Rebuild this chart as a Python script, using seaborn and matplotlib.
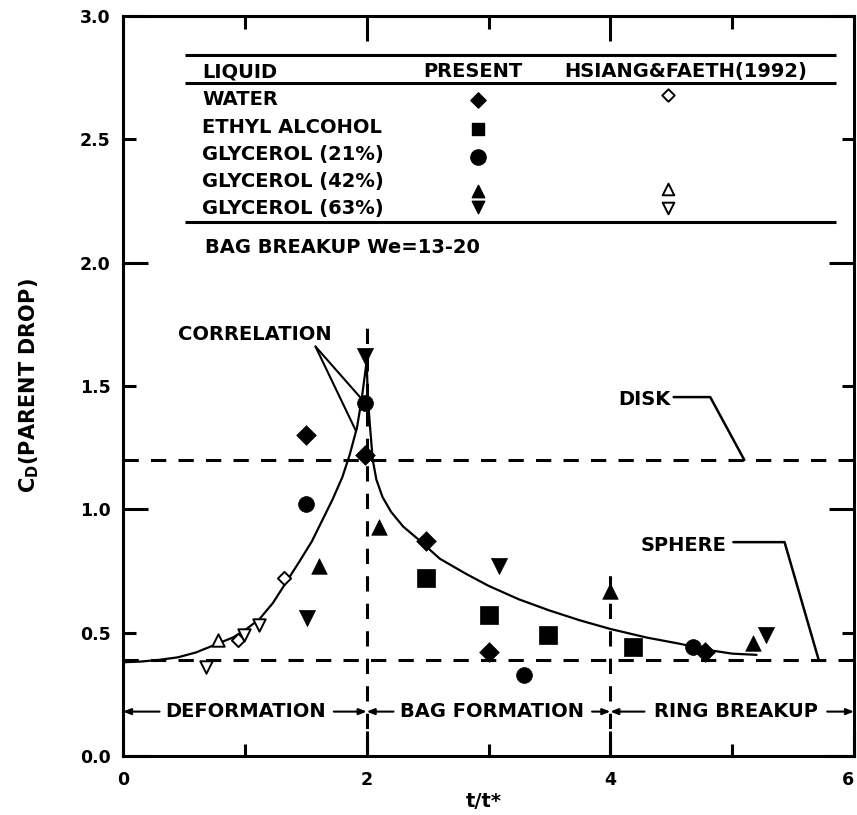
import numpy as np
import pandas as pd
import matplotlib
matplotlib.use("Agg")
import matplotlib.pyplot as plt
from matplotlib.ticker import FixedLocator, FormatStrFormatter
import seaborn as sns

# ---- present measurements: (t/t*, C_D) ----
water_t = [1.50, 1.99, 2.49, 3.00, 4.78]
water_cd = [1.30, 1.22, 0.87, 0.42, 0.42]
ethyl_t = [2.49, 3.00, 3.49, 4.19]
ethyl_cd = [0.72, 0.57, 0.49, 0.44]
gly21_t = [1.50, 1.99, 3.29, 4.68]
gly21_cd = [1.02, 1.43, 0.33, 0.44]
gly42_t = [1.61, 2.10, 4.00, 5.17]
gly42_cd = [0.77, 0.93, 0.67, 0.46]
gly63_t = [1.51, 1.99, 3.09, 5.28]
gly63_cd = [0.56, 1.62, 0.77, 0.49]

# ---- Hsiang & Faeth (1992) ----
hf_water_t = [0.94, 1.32]
hf_water_cd = [0.47, 0.72]
hf_gly42_t = [0.78]
hf_gly42_cd = [0.47]
hf_gly63_t = [0.68, 0.99, 1.12]
hf_gly63_cd = [0.36, 0.49, 0.53]

# ---- correlation curve (rising and decaying branches) ----
corr_rise_t = [0.00, 0.15, 0.30, 0.45, 0.60, 0.75, 0.90, 1.00, 1.12, 1.23,
               1.34, 1.45, 1.55, 1.65, 1.72, 1.80, 1.86, 1.92, 1.96, 2.00]
corr_rise_cd = [0.38, 0.383, 0.39, 0.40, 0.42, 0.45, 0.48, 0.51, 0.555, 0.62,
                0.705, 0.79, 0.87, 0.97, 1.04, 1.13, 1.22, 1.33, 1.45, 1.60]
corr_decay_t = [2.00, 2.01, 2.03, 2.05, 2.08, 2.13, 2.20, 2.30, 2.42, 2.60,
                2.81, 3.00, 3.25, 3.50, 3.75, 4.00, 4.30, 4.57, 4.80, 5.00, 5.20]
corr_decay_cd = [1.60, 1.45, 1.32, 1.20, 1.12, 1.05, 0.99, 0.93, 0.88, 0.80,
                 0.74, 0.69, 0.635, 0.59, 0.55, 0.515, 0.48, 0.455, 0.43, 0.415, 0.41]

# reference drag coefficients
CD_DISK = 1.2
CD_SPHERE = 0.39

# regime boundaries (t/t*) and the height of their dashed markers
regime_edges = [0.0, 2.0, 4.0, 6.0]
regime_marker_top = [1.77, 0.74]
regimes = ["DEFORMATION", "BAG FORMATION", "RING BREAKUP"]

liquids = ["WATER", "ETHYL ALCOHOL", "GLYCEROL (21%)", "GLYCEROL (42%)", "GLYCEROL (63%)"]

sns.set_style("ticks")
plt.rcParams["font.family"] = ["DejaVu Sans"]
plt.rcParams["font.weight"] = "bold"
plt.rcParams["axes.labelweight"] = "bold"
plt.rcParams["mathtext.default"] = "bf"
plt.rcParams["text.color"] = "black"
plt.rcParams["axes.labelcolor"] = "black"
plt.rcParams["xtick.color"] = "black"
plt.rcParams["ytick.color"] = "black"

fig = plt.figure(figsize=(8.57, 8.15), dpi=100)
ax = fig.add_axes([123 / 857, 59 / 815, 731 / 857, 740 / 815])
ax.set_xlim(0, 6)
ax.set_ylim(0, 3)

K = "black"
FS = 14

# reference lines
dash = (0, (5, 4))
ax.axhline(CD_DISK, color=K, lw=2.2, linestyle=dash, zorder=2)
ax.axhline(CD_SPHERE, color=K, lw=2.2, linestyle=dash, zorder=2)
ax.vlines(regime_edges[1:3], 0, regime_marker_top, colors=K, lw=2.2,
          linestyles=[dash], zorder=2)

# correlation
sns.lineplot(x=corr_rise_t, y=corr_rise_cd, sort=False, color=K, lw=1.6,
             ax=ax, zorder=3)
sns.lineplot(x=corr_decay_t, y=corr_decay_cd, sort=False, color=K, lw=1.6,
             ax=ax, zorder=3)


def points(t, cd, marker, size, filled=True):
    df = pd.DataFrame({"t": t, "cd": cd})
    if filled:
        sns.scatterplot(data=df, x="t", y="cd", marker=marker, s=size,
                        color=K, edgecolor=K, linewidth=0.5, ax=ax,
                        zorder=5, legend=False)
    else:
        sns.scatterplot(data=df, x="t", y="cd", marker=marker, s=size,
                        color="white", edgecolor=K, linewidth=1.4, ax=ax,
                        zorder=5, legend=False)


points(water_t, water_cd, "D", 100)
points(ethyl_t, ethyl_cd, "s", 150)
points(gly21_t, gly21_cd, "o", 130)
points(gly42_t, gly42_cd, "^", 125)
points(gly63_t, gly63_cd, "v", 135)
points(hf_water_t, hf_water_cd, "D", 45, filled=False)
points(hf_gly42_t, hf_gly42_cd, "^", 80, filled=False)
points(hf_gly63_t, hf_gly63_cd, "v", 80, filled=False)

# ---- key table ----
ax.hlines([2.84, 2.73, 2.165], 0.51, 5.85, colors=K, lw=2.2)
ax.text(0.65, 2.775, "LIQUID", fontsize=FS, va="center", ha="left")
ax.text(2.87, 2.775, "PRESENT", fontsize=FS, va="center", ha="center")
ax.text(4.62, 2.775, "HSIANG&FAETH(1992)", fontsize=FS, va="center", ha="center")
row_y = [2.66, 2.55, 2.44, 2.33, 2.22]
for name, y in zip(liquids, row_y):
    ax.text(0.65, y, name, fontsize=FS, va="center", ha="left")
key_present = [("D", 60, 2.66), ("s", 85, 2.54), ("o", 120, 2.43),
               ("^", 80, 2.29), ("v", 80, 2.225)]
for m, s, y in key_present:
    ax.scatter([2.91], [y], marker=m, s=s, color=K, zorder=5)
key_hf = [("D", 40, 2.68), ("^", 70, 2.30), ("v", 70, 2.22)]
for m, s, y in key_hf:
    ax.scatter([4.47], [y], marker=m, s=s, facecolor="white", edgecolor=K,
               linewidths=1.4, zorder=5)
ax.text(0.67, 2.06, "BAG BREAKUP We=13-20", fontsize=FS, va="center", ha="left")

# ---- annotations ----
ax.text(1.08, 1.71, "CORRELATION", fontsize=FS, va="center", ha="center")
ax.plot([1.58, 1.91], [1.66, 1.32], color=K, lw=1.5)
ax.plot([1.58, 1.99], [1.66, 1.43], color=K, lw=1.5)

ax.text(4.28, 1.445, "DISK", fontsize=FS, va="center", ha="center")
ax.plot([4.52, 4.82, 5.10], [1.455, 1.455, 1.20], color=K, lw=1.8)

ax.text(4.60, 0.855, "SPHERE", fontsize=FS, va="center", ha="center")
ax.plot([5.01, 5.43, 5.71], [0.867, 0.867, 0.39], color=K, lw=1.8)

# regime labels with arrows to the boundaries
ry = 0.18
centers = [1.01, 3.03, 5.03]
spans = [(0.30, 1.73), (2.22, 3.85), (4.28, 5.78)]
for lab, c in zip(regimes, centers):
    ax.text(c, ry, lab, fontsize=FS, va="center", ha="center")
arrow = dict(arrowstyle="-|>,head_length=0.45,head_width=0.18", color=K,
             lw=1.5, shrinkA=0, shrinkB=0)
for (lo, hi), a, b in zip(spans, regime_edges[:-1], regime_edges[1:]):
    ax.annotate("", xy=(a, ry), xytext=(lo, ry), arrowprops=arrow)
    ax.annotate("", xy=(b, ry), xytext=(hi, ry), arrowprops=arrow)

# ---- axes styling ----
for sp in ax.spines.values():
    sp.set_visible(True)
    sp.set_linewidth(2.2)
    sp.set_color(K)

ax.set_xticks([0, 2, 4, 6])
ax.xaxis.set_minor_locator(FixedLocator([1, 3, 5]))
ax.yaxis.set_major_locator(FixedLocator([0, 1, 2, 3]))
ax.yaxis.set_minor_locator(FixedLocator([0.5, 1.5, 2.5]))
ax.yaxis.set_major_formatter(FormatStrFormatter("%.1f"))
ax.yaxis.set_minor_formatter(FormatStrFormatter("%.1f"))
ax.tick_params(which="both", direction="in", top=True, right=True,
               width=2.2, color=K, labelsize=12.5, labelcolor=K)
ax.tick_params(which="major", length=18)
ax.tick_params(which="minor", length=9)
ax.tick_params(axis="x", which="both", pad=11)
ax.tick_params(axis="y", which="both", pad=9, labelleft=True, labelright=False)
ax.tick_params(axis="y", which="minor", labelleft=True)

# keep the last x tick label inside the figure edge
fig.canvas.draw()
ax.get_xticklabels()[-1].set_horizontalalignment("right")

ax.set_xlabel("t/t*", fontsize=14)
ax.xaxis.set_label_coords(0.494, -0.048)
ax.xaxis.label.set_va("top")
ax.set_ylabel(r"C$_{\mathbf{D}}$(PARENT DROP)", fontsize=15)
ax.yaxis.set_label_coords(-0.112, 0.5)

fig.savefig("out.png", dpi=100, facecolor="white")
